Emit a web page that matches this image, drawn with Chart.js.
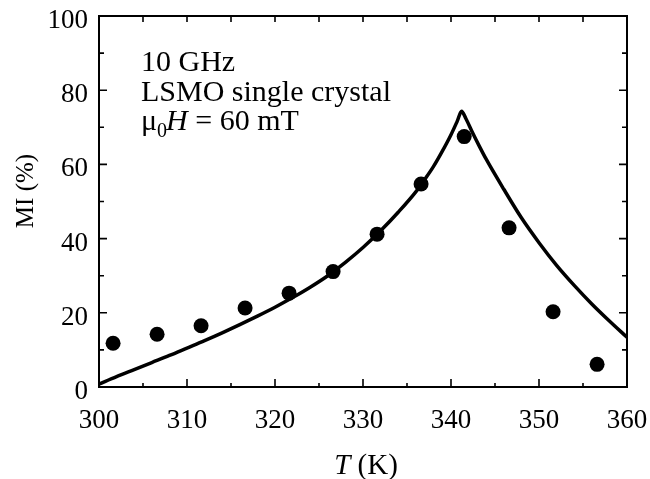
<!DOCTYPE html>
<html>
<head>
<meta charset="utf-8">
<script src="https://cdn.jsdelivr.net/npm/chart.js@4/dist/chart.umd.min.js"></script>
<style>
  html, body { margin: 0; padding: 0; background: #fff; }
  #wrap { width: 650px; height: 479px; position: relative; }
</style>
</head>
<body>
<div id="wrap"><canvas id="chart"></canvas></div>
<script>
// Measured magnetoimpedance (filled circles)
const tempMeasured = [301.6, 306.6, 311.6, 316.6, 321.6, 326.6, 331.6, 336.6, 341.5, 346.6, 351.6, 356.6];
const miMeasured   = [11.8, 14.2, 16.5, 21.3, 25.3, 31.1, 41.2, 54.7, 67.5, 42.9, 20.3, 6.1];

// Calculated curve (solid line)
const tempModel = [300, 302, 304, 306, 308, 310, 312, 314, 316, 318, 320, 322, 324, 326, 328, 330,
                   332, 334, 336, 337, 338, 339, 340, 340.7, 341.2, 341.7, 342.4, 343.2, 344,
                   346, 348, 350, 352, 354, 356, 358, 360];
const miModel   = [0.8, 2.8, 4.7, 6.6, 8.5, 10.5, 12.5, 14.6, 16.8, 19.1, 21.5, 24.1, 26.9, 30.0, 33.6, 37.6,
                   42.1, 47.1, 52.6, 55.9, 59.4, 63.5, 68.0, 71.6, 74.3, 72.3, 68.8, 65.0, 61.4,
                   53.3, 45.6, 38.9, 32.8, 27.4, 22.4, 17.8, 13.4];

// Axis ranges and steps
const xRange = [300, 360];
const yRange = [0, 100];
const xMajor = 10, xMinor = 5;
const yMajor = 20, yMinor = 10;

const SERIF = '"Liberation Serif", "Times New Roman", serif';

// Frame, inward ticks on all four sides, titles and the annotation block
const framePlugin = {
  id: 'frame',
  afterDraw(chart) {
    const { ctx, chartArea: a, scales: { x, y } } = chart;
    ctx.save();
    ctx.strokeStyle = '#000';
    ctx.lineWidth = 2;
    ctx.strokeRect(a.left, a.top, a.right - a.left, a.bottom - a.top);

    ctx.lineWidth = 1.6;
    ctx.beginPath();
    for (let v = xRange[0]; v <= xRange[1]; v += xMinor) {
      const px = x.getPixelForValue(v);
      const len = (v % xMajor === 0) ? 8 : 4;
      ctx.moveTo(px, a.bottom); ctx.lineTo(px, a.bottom - len);
      ctx.moveTo(px, a.top);    ctx.lineTo(px, a.top + 6);
    }
    for (let v = yRange[0]; v <= yRange[1]; v += yMinor) {
      const py = y.getPixelForValue(v);
      const len = (v % yMajor === 0) ? 8 : 5;
      ctx.moveTo(a.left, py);  ctx.lineTo(a.left + len, py);
      ctx.moveTo(a.right, py); ctx.lineTo(a.right - len, py);
    }
    ctx.stroke();

    ctx.fillStyle = '#000';
    ctx.textBaseline = 'alphabetic';
    ctx.textAlign = 'left';

    // annotation
    const ax = 141;
    ctx.font = '30px ' + SERIF;
    ctx.fillText('10 GHz', ax, 71);
    ctx.fillText('LSMO single crystal', ax, 101);
    let cx = ax;
    const by = 130;
    ctx.fillText('\u03bc', cx, by); cx += ctx.measureText('\u03bc').width;
    ctx.font = '20px ' + SERIF;
    ctx.fillText('0', cx, by + 7); cx += ctx.measureText('0').width - 1;
    ctx.font = 'italic 30px ' + SERIF;
    ctx.fillText('H', cx, by); cx += ctx.measureText('H').width;
    ctx.font = '30px ' + SERIF;
    ctx.fillText(' = 60 mT', cx, by);

    // x title: italic T, upright (K)
    ctx.font = 'italic 29px ' + SERIF;
    const wT = ctx.measureText('T').width;
    ctx.font = '29px ' + SERIF;
    const wK = ctx.measureText(' (K)').width;
    const tx = (a.left + a.right) / 2 + 3 - (wT + wK) / 2;
    ctx.font = 'italic 29px ' + SERIF;
    ctx.fillText('T', tx, 474);
    ctx.font = '29px ' + SERIF;
    ctx.fillText(' (K)', tx + wT, 474);

    // y title
    ctx.translate(33, 191);
    ctx.rotate(-Math.PI / 2);
    ctx.textAlign = 'center';
    ctx.font = '25px ' + SERIF;
    ctx.fillText('MI (%)', 0, 0);
    ctx.restore();
  }
};

new Chart(document.getElementById('chart'), {
  type: 'scatter',
  data: {
    datasets: [
      {
        label: 'calculated',
        data: tempModel.map((t, i) => ({ x: t, y: miModel[i] })),
        showLine: true,
        borderColor: '#000',
        borderWidth: 3.5,
        pointRadius: 0,
        cubicInterpolationMode: 'monotone',
        borderCapStyle: 'round',
        borderJoinStyle: 'round',
        order: 2
      },
      {
        label: 'measured',
        data: tempMeasured.map((t, i) => ({ x: t, y: miMeasured[i] })),
        showLine: false,
        pointRadius: 7.5,
        pointBackgroundColor: '#000',
        pointBorderColor: '#000',
        pointBorderWidth: 0,
        order: 1
      }
    ]
  },
  options: {
    responsive: true,
    maintainAspectRatio: false,
    animation: false,
    events: [],
    layout: { padding: { left: 0, right: 23, top: 16, bottom: 0 } },
    plugins: { legend: { display: false }, tooltip: { enabled: false } },
    scales: {
      x: {
        type: 'linear',
        min: xRange[0], max: xRange[1],
        grid: { display: false, drawTicks: false },
        border: { display: false },
        ticks: {
          stepSize: xMajor,
          padding: 18,
          color: '#000',
          font: { family: SERIF, size: 27 }
        },
        afterFit(s) {
          s.height = 92;
          s.paddingLeft = 0; s.paddingRight = 0;
        }
      },
      y: {
        type: 'linear',
        min: yRange[0], max: yRange[1],
        grid: { display: false, drawTicks: false },
        border: { display: false },
        ticks: {
          stepSize: yMajor,
          padding: 11,
          labelOffset: 5,
          color: '#000',
          font: { family: SERIF, size: 27 }
        },
        afterFit(s) {
          s.width = 99;
          s.paddingTop = 0; s.paddingBottom = 0;
        }
      }
    }
  },
  plugins: [framePlugin]
});
</script>
</body>
</html>
